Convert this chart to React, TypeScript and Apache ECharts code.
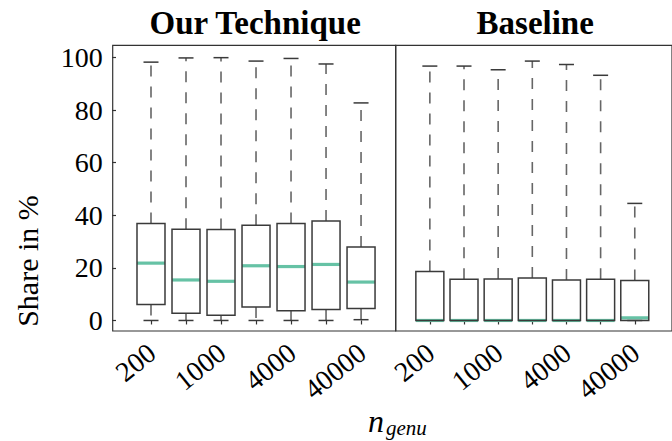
import React, { useEffect, useRef } from "react";
import * as echarts from "echarts";

// Category labels (unlabeled intermediate ticks are empty strings)
const categories = ["200", "", "1000", "", "4000", "", "40000"];
const yTicks = [0, 20, 40, 60, 80, 100];
const panelTitles = ["Our Technique", "Baseline"];
const yAxisTitle = "Share in %";

// Our Technique box statistics (%)
const oursLow = [0, 0, 0, 0, 0, 0, 0.3];
const oursQ1 = [6.1, 2.7, 2.0, 5.1, 3.7, 4.2, 4.6];
const oursMed = [21.8, 15.4, 14.9, 20.8, 20.5, 21.3, 14.6];
const oursQ3 = [36.9, 34.7, 34.6, 36.2, 36.9, 37.8, 27.9];
const oursHigh = [98.2, 99.8, 99.9, 98.6, 99.6, 97.5, 82.7];

// Baseline box statistics (%)
const baseLow = [0, 0, 0, 0, 0, 0, 0];
const baseQ1 = [0, 0, 0, 0, 0, 0, 0];
const baseMed = [0, 0, 0, 0, 0, 0, 1.0];
const baseQ3 = [18.6, 15.7, 15.8, 16.1, 15.4, 15.7, 15.2];
const baseHigh = [96.7, 96.7, 95.3, 98.6, 97.3, 93.2, 44.5];

const FONT = "Liberation Serif, serif";
const LABEL_SHIFT = 0.28; // rotated-label anchor shift, in category units

function buildRows(low: number[], q1: number[], med: number[], q3: number[], high: number[]) {
  return categories.map((_, i) => [i + 1, low[i], q1[i], med[i], q3[i], high[i]]);
}

function renderBox(params: any, api: any) {
  const x = api.value(0);
  const pLow = api.coord([x, api.value(1)]);
  const pQ1 = api.coord([x, api.value(2)]);
  const pMed = api.coord([x, api.value(3)]);
  const pQ3 = api.coord([x, api.value(4)]);
  const pHigh = api.coord([x, api.value(5)]);
  const cx = pMed[0];
  const half = 14;
  const capHalf = 7.5;
  const whisker = { stroke: "#666", lineWidth: 1.6, lineDash: [11, 10] };
  const dark = { stroke: "#3a3a3a", lineWidth: 1.5 };
  return {
    type: "group",
    children: [
      { type: "line", shape: { x1: cx, y1: pQ3[1], x2: cx, y2: pHigh[1] }, style: whisker },
      { type: "line", shape: { x1: cx, y1: pQ1[1], x2: cx, y2: pLow[1] }, style: whisker },
      { type: "line", shape: { x1: cx - capHalf, y1: pHigh[1], x2: cx + capHalf, y2: pHigh[1] }, style: dark },
      { type: "line", shape: { x1: cx - capHalf, y1: pLow[1], x2: cx + capHalf, y2: pLow[1] }, style: dark },
      { type: "line", shape: { x1: cx - half, y1: pMed[1], x2: cx + half, y2: pMed[1] }, style: { stroke: "#66c2a5", lineWidth: 3.2 } },
      {
        type: "rect",
        shape: { x: cx - half, y: pQ3[1], width: 2 * half, height: pQ1[1] - pQ3[1] },
        style: { fill: "none", ...dark },
      },
    ],
  };
}

const GRID_TOP = 45.3;
const GRID_H = 285.7;
const P1_LEFT = 112.7;
const P2_LEFT = 395.7;
const GRID_W = 283;

export default function App() {
  const ref = useRef<HTMLDivElement>(null);
  useEffect(() => {
    if (!ref.current) return;
    const chart = echarts.init(ref.current, null, { renderer: "svg" });
    const positions = categories.map((_, i) => i + 1);
    const labelPositions = positions.filter((v) => categories[v - 1] !== "").map((v) => v + LABEL_SHIFT);
    const xAxisCommon = (gridIndex: number, min: number, max: number) => ({
      type: "value",
      gridIndex,
      min,
      max,
      splitLine: { show: false },
      axisLine: { show: false },
      axisTick: {
        show: true,
        length: 4,
        lineStyle: { color: "#333", width: 1.2 },
        customValues: positions,
      },
      axisLabel: {
        show: true,
        rotate: 39,
        margin: 29,
        verticalAlign: "bottom",
        fontFamily: FONT,
        fontSize: 28,
        color: "#000",
        customValues: labelPositions,
        formatter: (v: number) => categories[Math.round(v - LABEL_SHIFT) - 1] ?? "",
      },
    });
    const yAxisCommon = (gridIndex: number, showLabels: boolean) => ({
      type: "value",
      gridIndex,
      min: -4,
      max: 104.6,
      splitLine: { show: false },
      axisLine: { show: false },
      axisTick: {
        show: showLabels,
        length: 4,
        lineStyle: { color: "#333", width: 1.2 },
        customValues: yTicks,
      },
      axisLabel: {
        show: showLabels,
        margin: 10,
        fontFamily: FONT,
        fontSize: 28,
        color: "#000",
        customValues: yTicks,
      },
    });
    chart.setOption({
      animation: false,
      textStyle: { fontFamily: FONT },
      grid: [
        { left: P1_LEFT, top: GRID_TOP, width: GRID_W, height: GRID_H, show: true, borderColor: "#333", borderWidth: 1.2, backgroundColor: "transparent" },
        { left: P2_LEFT, top: GRID_TOP, width: GRID_W, height: GRID_H, show: true, borderColor: "#333", borderWidth: 1.2, backgroundColor: "transparent" },
      ],
      xAxis: [xAxisCommon(0, -0.094, 7.99), xAxisCommon(1, 0, 8.09)],
      yAxis: [yAxisCommon(0, true), yAxisCommon(1, false)],
      series: [
        {
          type: "custom",
          xAxisIndex: 0,
          yAxisIndex: 0,
          renderItem: renderBox,
          encode: { x: 0, y: [1, 2, 3, 4, 5] },
          data: buildRows(oursLow, oursQ1, oursMed, oursQ3, oursHigh),
        },
        {
          type: "custom",
          xAxisIndex: 1,
          yAxisIndex: 1,
          renderItem: renderBox,
          encode: { x: 0, y: [1, 2, 3, 4, 5] },
          data: buildRows(baseLow, baseQ1, baseMed, baseQ3, baseHigh),
        },
      ],
      graphic: [
        {
          type: "text",
          x: P1_LEFT + GRID_W / 2 + 1,
          y: 23,
          style: { text: panelTitles[0], fontFamily: FONT, fontWeight: "bold", fontSize: 33, fill: "#000", align: "center", verticalAlign: "middle" },
        },
        {
          type: "text",
          x: P2_LEFT + GRID_W / 2 - 2,
          y: 23,
          style: { text: panelTitles[1], fontFamily: FONT, fontWeight: "bold", fontSize: 33, fill: "#000", align: "center", verticalAlign: "middle" },
        },
        {
          type: "text",
          x: 27,
          y: 261,
          rotation: Math.PI / 2,
          style: { text: yAxisTitle, fontFamily: FONT, fontSize: 30, fill: "#000", align: "center", verticalAlign: "middle" },
        },
        {
          type: "text",
          x: 368,
          y: 421,
          style: { text: "n", fontFamily: FONT, fontStyle: "italic", fontSize: 32, fill: "#000", align: "left", verticalAlign: "middle" },
        },
        {
          type: "text",
          x: 386,
          y: 428,
          style: { text: "genu", fontFamily: FONT, fontStyle: "italic", fontSize: 21, fill: "#000", align: "left", verticalAlign: "middle" },
        },
      ],
    });
    return () => chart.dispose();
  }, []);
  return <div ref={ref} style={{ position: "absolute", left: 0, top: 0, width: 672, height: 441 }} />;
}
